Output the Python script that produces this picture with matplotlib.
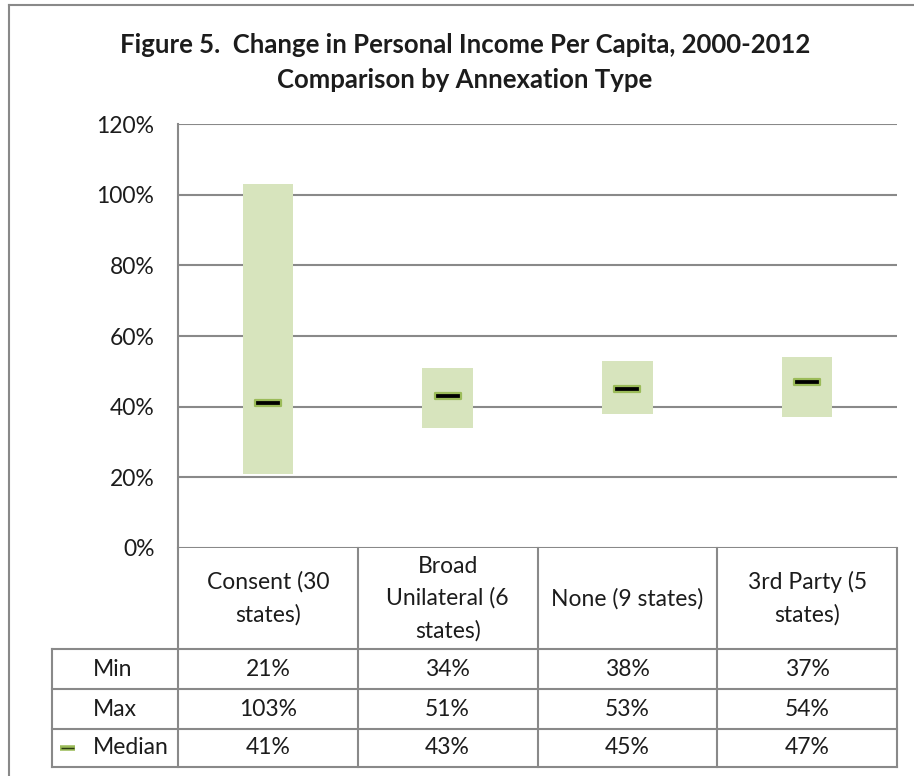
import matplotlib
matplotlib.use("Agg")
import matplotlib.pyplot as plt
from matplotlib.path import Path

categories = ["Consent (30\nstates)", "Broad\nUnilateral (6\nstates)", "None (9 states)", "3rd Party (5\nstates)"]
mins = [21, 34, 38, 37]
maxs = [103, 51, 53, 54]
medians = [41, 43, 45, 47]
row_labels = ["Min", "Max", "Median"]
y_ticks = [0, 20, 40, 60, 80, 100, 120]

W, H = 914, 776
GREY = "#898989"
TXT = "#1c1c1c"
BAR = "#D7E4BD"
GREEN = "#9BBB59"
FS = 16.5

plt.rcParams["font.family"] = "Lato"

fig = plt.figure(figsize=(W / 100, H / 100), dpi=100)

# plot area in pixel coords (left, right, top, bottom)
px0, px1, py0, py1 = 178, 897, 124, 548
ax = fig.add_axes([px0 / W, 1 - py1 / H, (px1 - px0) / W, (py1 - py0) / H])

n = len(categories)
xs = list(range(n))
ax.bar(xs, [hi - lo for lo, hi in zip(mins, maxs)], bottom=mins, width=0.28,
       color=BAR, zorder=2)

dash = Path([(-1, -0.2), (1, -0.2), (1, 0.2), (-1, 0.2), (-1, -0.2)],
            [Path.MOVETO, Path.LINETO, Path.LINETO, Path.LINETO, Path.CLOSEPOLY])
ax.plot(xs, medians, linestyle="none", marker=dash, markersize=19,
        markerfacecolor="black", markeredgecolor=GREEN, markeredgewidth=1.6, zorder=3)

ax.set_xlim(-0.5, n - 0.5)
ax.set_ylim(0, 120)
ax.set_yticks(y_ticks)
ax.set_yticklabels([f"{t}%" for t in y_ticks], fontsize=FS, color=TXT)
ax.tick_params(axis="y", length=0, pad=17)
ax.set_xticks([])
ax.yaxis.grid(True, color=GREY, linewidth=1.5, zorder=0)
ax.set_axisbelow(True)
for side in ("top", "right", "bottom"):
    ax.spines[side].set_visible(False)
ax.spines["left"].set_color(GREY)
ax.spines["left"].set_linewidth(1.5)

# overlay in pixel coords for the data table and chart border
ov = fig.add_axes([0, 0, 1, 1], zorder=5)
ov.set_xlim(0, W)
ov.set_ylim(H, 0)
ov.axis("off")
ov.patch.set_alpha(0)

lw = 1.5
ov.plot([9, 9], [5, H], color=GREY, lw=lw)
ov.plot([9, W], [5, 5], color=GREY, lw=lw)

ov.text(465, 45, "Figure 5.  Change in Personal Income Per Capita, 2000-2012",
        ha="center", va="center", fontsize=18.5, fontweight="bold", color=TXT)
ov.text(465, 80, "Comparison by Annexation Type",
        ha="center", va="center", fontsize=18.5, fontweight="bold", color=TXT)

col_w = (px1 - px0) / n
col_edges = [px0 + i * col_w for i in range(n + 1)]
hdr_top, hdr_bot = py1, 649
row_edges = [649, 689, 729, 767]
lab_x0 = 52

# header row
ov.plot([px0, px1], [hdr_bot, hdr_bot], color=GREY, lw=lw)
for xe in col_edges:
    ov.plot([xe, xe], [hdr_top, row_edges[-1]], color=GREY, lw=lw)
for i, cat in enumerate(categories):
    ov.text(col_edges[i] + col_w / 2, (hdr_top + hdr_bot) / 2, cat, ha="center",
            va="center", multialignment="center", fontsize=FS, color=TXT,
            linespacing=1.62)

# value rows
ov.plot([lab_x0, px0], [row_edges[0], row_edges[0]], color=GREY, lw=lw)
for ye in row_edges[1:]:
    ov.plot([lab_x0, px1], [ye, ye], color=GREY, lw=lw)
ov.plot([lab_x0, lab_x0], [row_edges[0], row_edges[-1]], color=GREY, lw=lw)

for r, (label, vals) in enumerate(zip(row_labels, [mins, maxs, medians])):
    yc = (row_edges[r] + row_edges[r + 1]) / 2
    ov.text(93, yc, label, ha="left", va="center", fontsize=FS, color=TXT)
    for i, v in enumerate(vals):
        ov.text(col_edges[i] + col_w / 2, yc, f"{v}%", ha="center", va="center",
                fontsize=FS, color=TXT)

# legend key for the median marker
yk = (row_edges[2] + row_edges[3]) / 2
ov.plot([60, 75], [yk, yk], color=GREEN, lw=4, solid_capstyle="butt")
ov.plot([61, 74], [yk, yk], color="#2a3a10", lw=1, solid_capstyle="butt")

fig.savefig("out.png", dpi=100)
